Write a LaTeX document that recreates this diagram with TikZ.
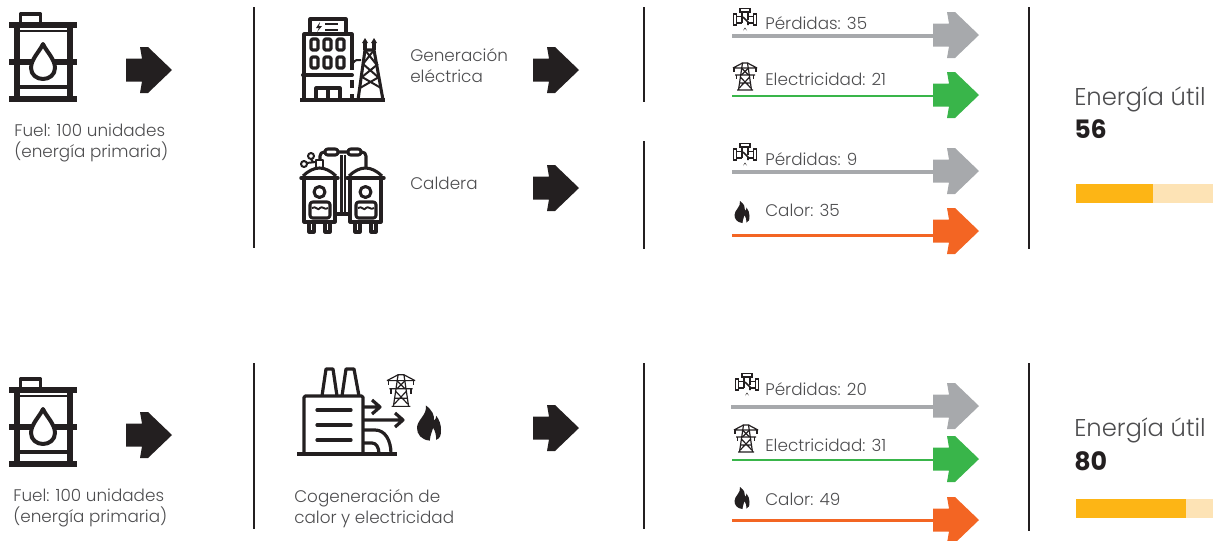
\documentclass[tikz,border=0pt]{standalone}
\usepackage{fontspec}
\setmainfont{Poppins}[UprightFont=* Light,BoldFont=* Bold]
\definecolor{ink}{HTML}{231F20}
\definecolor{txt}{HTML}{4D4D4F}
\definecolor{greyc}{HTML}{A7A9AC}
\definecolor{greenc}{HTML}{39B54A}
\definecolor{orangec}{HTML}{F36523}
\definecolor{amber}{HTML}{FDB515}
\definecolor{amberl}{HTML}{FDE3B5}
\tikzset{
  px/.style={x=0.75pt,y=-0.75pt},
  divider/.style={draw=ink,line width=2pt},
  flow/.style={line width=2.4pt},
  flowc/.style={line width=2.2pt},
  lab/.style={anchor=base west,inner sep=0pt,text=txt,font=\fontsize{12.6}{15}\selectfont},
  big/.style={anchor=base west,inner sep=0pt,text=txt,font=\fontsize{18.2}{22}\selectfont},
  num/.style={anchor=base west,inner sep=0pt,text=ink,font=\fontsize{19}{22}\selectfont\bfseries},
  ic/.style={draw=ink,line width=2.3pt,line join=round},
  thin/.style={draw=ink,line width=0.9pt},
  pics/fat/.style={code={\fill[#1] (-23,-11.5)--(-7,-11.5)--(-9,-23)--(-1,-23)--(23,0)--(-1,23)--(-9,23)--(-7,11.5)--(-23,11.5)--cycle;}},
  pics/barrel/.style={code={
    \draw[ic,line width=2.4pt] (-22.5,-48)rectangle(-2.5,-38);
    \draw[ic,line width=3.8pt] (-34,-37)--(34,-37) (-34,0)--(34,0) (-34,37)--(34,37);
    \draw[ic,line width=3.8pt] (-26,-37)--(-26,37) (27,-37)--(27,37);
    \draw[ic,line width=2.2pt] (-26,-31)--(27,-31);
    \draw[ic,line width=3pt] (-26,25)--(27,25);
    \draw[ic,line width=3pt,fill=white] (0,-18) .. controls (-3,-11) and (-12,-3) .. (-12,6) .. controls (-12,13) and (-6,17) .. (0,17) .. controls (6,17) and (12,13) .. (12,6) .. controls (12,-3) and (3,-11) .. (0,-18) -- cycle;
  }},
  pics/tower/.style={code={
    \draw[thin] (-8,14)--(8,14) (-6.5,14)--(-2.5,-13)--(2.5,-13)--(6.5,14);
    \draw[thin] (-12,-8)--(12,-8) (-10,-1)--(10,-1) (-12,-8)--(-2.5,-13) (12,-8)--(2.5,-13);
    \draw[thin] (-5.5,7)--(5.5,7) (-4.7,1)--(5.8,12) (4.7,1)--(-5.8,12) (-3.6,-8)--(3.6,-1) (3.6,-8)--(-3.6,-1);
    \draw[thin] (-11,-8)--(-11,-4) (11,-8)--(11,-4) (-8.5,-1)--(-8.5,3) (8.5,-1)--(8.5,3);
  }},
  pics/valve/.style={code={
    \draw[thin,line width=1.1pt] (-11.5,-6)rectangle(-8.5,5) (8.5,-6)rectangle(11.5,5);
    \draw[thin,line width=1.1pt] (-8.5,-3.5)--(-3,-3.5) (3,-3.5)--(8.5,-3.5) (-8.5,3)--(-3,3) (3,3)--(8.5,3);
    \draw[thin,line width=1.1pt] (-5,-8)rectangle(5,-11.5) (-3,-8)--(-3,3) (3,-8)--(3,0);
    \draw[thin,line width=1.3pt] (-2,-3)--(3,2)--(3,5);
    \fill[ink] (0,7.5) .. controls (-1,9.5) and (-2,10) .. (-2,11) arc[start angle=180,end angle=360,radius=2] .. controls (2,10) and (1,9.5) .. (0,7.5) -- cycle;
  }},
  pics/flame/.style={code={
    \fill[ink] (0.5,11) .. controls (-5,10.5) and (-7.5,7) .. (-7.5,3) .. controls (-7.5,-2) and (-1,-5) .. (-2,-11) .. controls (2,-8) and (3.5,-5) .. (3,-1.5) .. controls (4,-2) and (4.5,-3) .. (4.5,-4.5) .. controls (6.5,-2) and (7.5,1) .. (7.5,4) .. controls (7.5,8) and (7,9.5) .. (4.5,10.5) .. controls (4.5,8) and (4,5) .. (2.5,3) .. controls (2.2,5) and (0.8,7) .. (0.5,11) -- cycle;
  }},
  pics/plant/.style={code={
    \draw[ic] (300,100)--(385,100);
    \draw[ic] (304,100)--(304,34)--(352,34)--(352,70) (352,80)--(352,88) (352,94)--(352,100);
    \draw[ic] (310,34)--(310,19)--(346,19)--(346,34);
    \draw[ic,line width=3pt,line cap=round] (303,75)--(352,75);
    \foreach \xx in {311,324,337} \foreach \yy in {39,57}
      \draw[ic,rounded corners=1pt] (\xx,\yy) rectangle ++(7,11);
    \draw[ic] (316,100)--(316,88)--(340,88)--(340,100) (328,88)--(328,100);
    \fill[ink] (320,22)--(316,28)--(319,28)--(317,32)--(322,26)--(319,26)--cycle;
    \draw[ic,line width=1.5pt] (325,24)--(338,24) (325,30)--(338,30);
    \draw[ic] (358,100)--(365,50)--(374,50)--(383,100);
    \draw[ic,line width=1.5pt] (360,88)--(379,77) (381,88)--(362,77) (362,77)--(378,64) (378,77)--(363,64) (363,64)--(374,50) (376,64)--(365,50);
    \draw[ic,line width=1.5pt] (353,63) .. controls (355,60) and (358,59) .. (361,60);
    \draw[ic] (365,50)--(365,41) (374,50)--(374,41);
    \fill[ink] (365,38)--(362,43)--(368,43)--cycle (374,38)--(371,43)--(377,43)--cycle;
  }},
  pics/boiler/.style={code={
    \foreach \ox/\mx in {0/319,46/366}{
      \begin{scope}[xshift=\ox*0.75pt]
      \draw[ic] (304,178)--(304,222)--(335,222)--(335,178);
      \draw[ic,line width=2.6pt,line cap=round] (301,178)--(338,178);
      \draw[ic] (303,176) .. controls (308,171) and (314,168) .. (319.5,168) .. controls (325,168) and (331,171) .. (336,176);
      \draw[ic] (319.5,192) circle[radius=5.5];
      \draw[ic,rounded corners=2pt] (310,202) rectangle (330,218);
      \draw[ic,line width=1.4pt] (312,208) .. controls (316,205) and (318,212) .. (320,208) .. controls (322,205) and (325,211) .. (328,208);
      \draw[ic] (309,222)--(309,232)--(314,232)--(314,222) (325,222)--(325,232)--(330,232)--(330,222);
      \end{scope}
    }
    \draw[ic] (335,214)--(350,214);
    \draw[ic,line width=1.7pt] (341.5,155)--(341.5,214) (345,155)--(345,214);
    \draw[ic,rounded corners=3pt] (320,160)--(320,152)--(325,152) (338,152)--(348,152) (361,152)--(366,152)--(366,168);
    \draw[ic,rounded corners=2pt] (325,149) rectangle (338,155) (348,149) rectangle (361,155);
    \draw[ic,line width=1.6pt] (316,168)--(316,160)--(323,160)--(323,168);
    \draw[ic,line width=1.5pt] (311,156) circle[radius=3] (304,164) circle[radius=3] (306.5,163)--(316,162) (311,159)--(313,162);
  }},
  pics/chp/.style={code={
    \draw[ic,line width=2.4pt] (297,454)--(397,454);
    \draw[ic,line width=2.4pt,rounded corners=1pt] (304,454)--(304,396)--(363,396)--(363,454);
    \draw[ic,line width=2.4pt] (322,396)--(326,369)--(333,369)--(337,396) (342,396)--(346,369)--(354,369)--(359,396);
    \draw[ic,line width=2.4pt,line cap=round] (317,410)--(351,410) (317,425)--(351,425) (317,440)--(351,440);
    \draw[ic,line width=2.4pt] (363,407)--(379,407) (372,400)--(380,407)--(372,414);
    \draw[ic,line width=2.4pt] (363,420)--(402,420) (395,413)--(403,420)--(395,427);
    \draw[ic,line width=2.4pt] (363,430)--(375,430) .. controls (385,430) and (391,440) .. (391,454);
    \draw[ic,line width=2.4pt] (363,443)--(372,443) .. controls (376,443) and (379,447) .. (379,454);
  }}
}
\begin{document}
\begin{tikzpicture}[px]
\useasboundingbox (0,0) rectangle (1213,540);
% fuel row 1
\pic (bar1) at (43,62) {barrel};
\pic (a1) at (149,70) {fat=ink};
\node[lab] (f1a) at (14,136) {Fuel: 100 unidades};
\node[lab] (f1b) at (14,157) {(energía primaria)};
\draw[divider] (254,7)--(254,248);
\pic (plant) at (0,0) {plant};
\node[lab] (g1) at (410,61) {Generación};
\node[lab] (g2) at (410,82) {eléctrica};
\pic (a2) at (556,70) {fat=ink};
\pic (boil) at (0,0) {boiler};
\node[lab] (c1) at (410,189) {Caldera};
\pic (a3) at (556,188) {fat=ink};
\draw[divider] (644,7)--(644,102);
\draw[divider] (644,141)--(644,249);
% outputs row 1
\pic (v1) at (745,20) {valve};
\node[lab] (p1) at (765,29) {Pérdidas: 35};
\coordinate (l1s) at (732,36); \coordinate (l1e) at (940,36);
\draw[flow,greyc] (l1s)--(l1e);
\pic (o1) at (956,35) {fat=greyc};
\pic (t1) at (745,76) {tower};
\node[lab] (p2) at (765,85) {Electricidad: 21};
\coordinate (l2s) at (732,96); \coordinate (l2e) at (940,96);
\draw[flowc,greenc] (l2s)--(l2e);
\pic (o2) at (956,95) {fat=greenc};
\pic (v2) at (745,155) {valve};
\node[lab] (p3) at (765,165) {Pérdidas: 9};
\coordinate (l3s) at (732,172); \coordinate (l3e) at (940,172);
\draw[flow,greyc] (l3s)--(l3e);
\pic (o3) at (956,171) {fat=greyc};
\pic (fl1) at (742,212) {flame};
\node[lab] (p4) at (765,216) {Calor: 35};
\coordinate (l4s) at (732,235.5); \coordinate (l4e) at (940,235.5);
\draw[flowc,orangec] (l4s)--(l4e);
\pic (o4) at (956,231) {fat=orangec};
\draw[divider] (1029,7)--(1029,249);
\node[big] (e1) at (1074,105) {Energía útil};
\node[num] (n1) at (1074,138) {56};
\fill[amberl] (1153,184) rectangle (1213,203);
\fill[amber] (1076,184) rectangle (1153,203);
% row 2
\pic (bar2) at (43,427) {barrel};
\pic (a4) at (149,435) {fat=ink};
\node[lab] (f2a) at (13,501) {Fuel: 100 unidades};
\node[lab] (f2b) at (13,522) {(energía primaria)};
\draw[divider] (254,363)--(254,529);
\pic (chp) at (0,0) {chp};
\pic[scale=1.17] (t2) at (401,390) {tower};
\pic[scale=1.6] (fl2) at (429,423) {flame};
\node[lab] (cg1) at (294,502) {Cogeneración de};
\node[lab] (cg2) at (294,523) {calor y electricidad};
\pic (a5) at (556,428) {fat=ink};
\draw[divider] (644,363)--(644,529);
\pic (v3) at (747,385) {valve};
\node[lab] (p5) at (765,395) {Pérdidas: 20};
\coordinate (l5s) at (731,407); \coordinate (l5e) at (940,407);
\draw[flow,greyc] (l5s)--(l5e);
\pic (o5) at (956,406) {fat=greyc};
\pic (t3) at (746,438) {tower};
\node[lab] (p6) at (765,451) {Electricidad: 31};
\coordinate (l6s) at (732,460); \coordinate (l6e) at (940,460);
\draw[flowc,greenc] (l6s)--(l6e);
\pic (o6) at (956,459) {fat=greenc};
\pic (fl3) at (742,498) {flame};
\node[lab] (p7) at (765,505) {Calor: 49};
\coordinate (l7s) at (732,520.5); \coordinate (l7e) at (940,520.5);
\draw[flowc,orangec] (l7s)--(l7e);
\pic (o7) at (956,520) {fat=orangec};
\draw[divider] (1029,363)--(1029,531);
\node[big] (e2) at (1074,436) {Energía útil};
\node[num] (n2) at (1074,470) {80};
\fill[amberl] (1186,499) rectangle (1213,518);
\fill[amber] (1076,499) rectangle (1186,518);
\end{tikzpicture}
\end{document}
